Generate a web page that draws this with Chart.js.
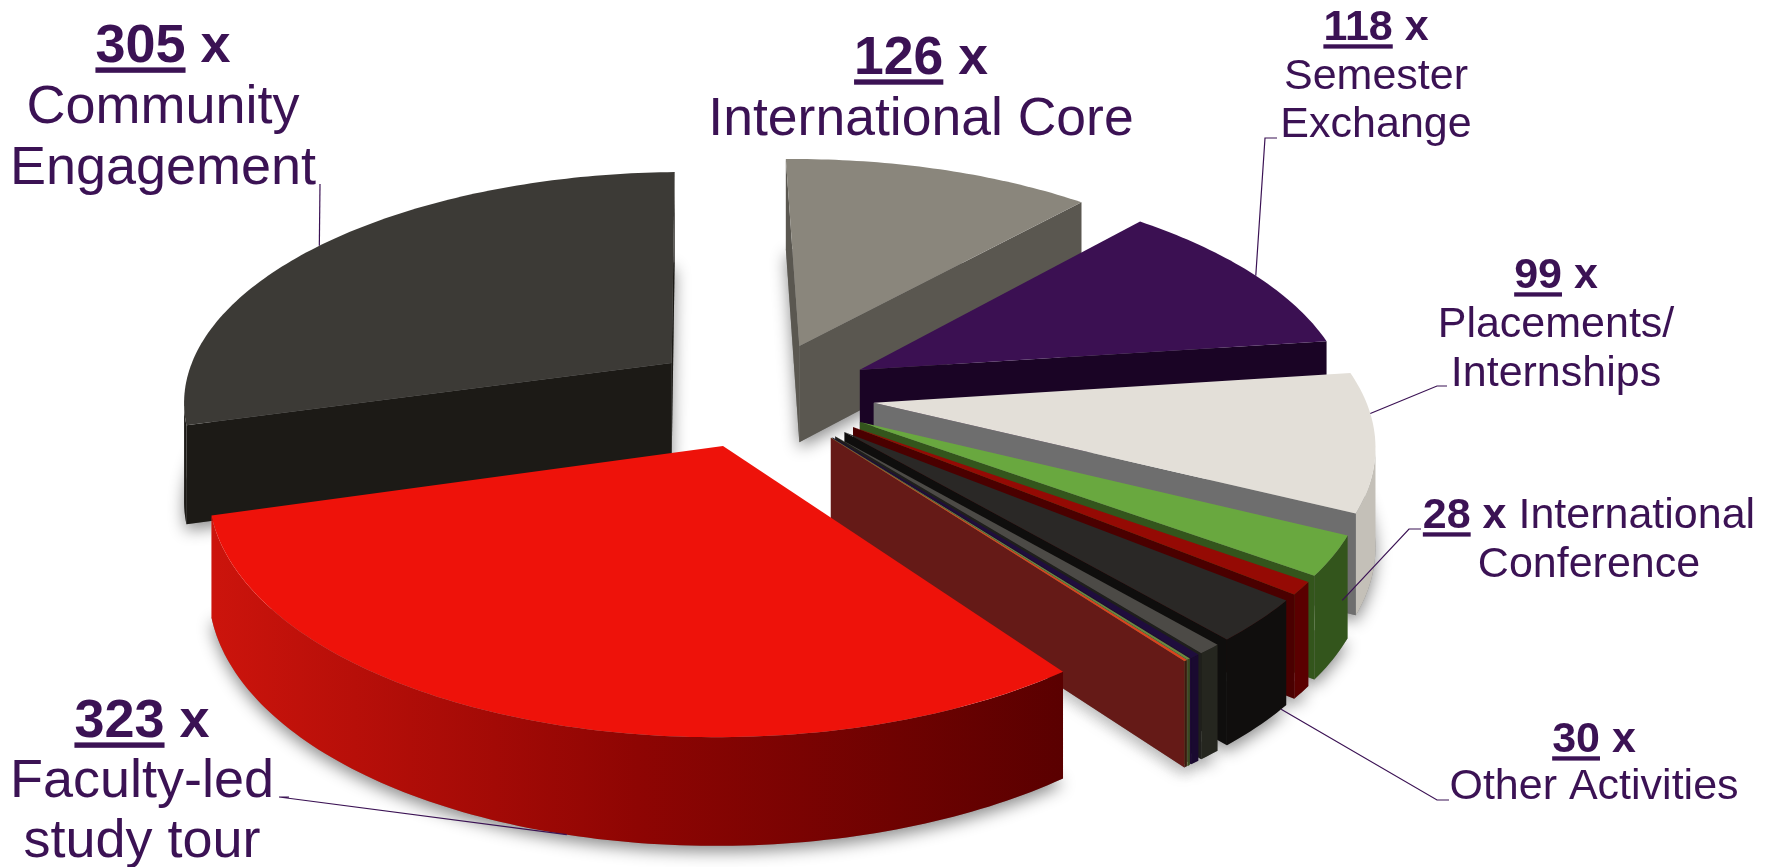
<!DOCTYPE html>
<html>
<head>
<meta charset="utf-8">
<title>Activities</title>
<script src="https://cdn.jsdelivr.net/npm/chart.js@4"></script>
<style>
    html, body { margin: 0; background: #fff; }
    canvas { display: block; }
</style>
</head>
<body>
<canvas id="pie" width="1772" height="867"></canvas>
<script>
const categories = ['Faculty-led study tour', 'Community Engagement', 'International Core', 'Semester Exchange',
    'Placements/Internships', 'International Conference', 'Other A', 'Other Activities', 'Other B', 'Other C', 'Other D', 'Other E'];
const values = [323, 305, 126, 118, 99, 28, 9, 30, 7, 3, 1, 1];

const topColors = ['#ee120a', '#3c3a36', '#8a867c', '#3b1052', '#e3dfd8', '#69a83f', '#950a04', '#2a2826', '#4c4a46', '#1f0d3d', '#6a8a40', '#e0401c'];
const cutColors = ['#650100', '#1c1a16', '#5a5750', '#1a0425', '#6e6e6e', '#33551c', '#4a0000', '#0f0e0d', '#1f1f1c', '#1e0a35', '#6a7a40', '#651a17'];
const wallColors = [null, '#1c1a16', '#5a5750', '#1a0425', '#c4c0b8', '#33551c', '#5a0000', '#100e0d', '#25261f', '#1a0a30', '#3a4a20', '#3a1a10'];
const redWallStops = ['#cc140c', '#8e0503', '#5a0000'];

// back to front, the big red slice goes over the thin ones
const paintOrder = [2, 1, 3, 4, 5, 6, 7, 8, 9, 10, 11, 0];

// camera for the tilted pie
const camera = { cx: 761, cy: 394, a: 490, b: 229, k: 0.153, depth: 98 };

const inkColor = '#3b1254';

const captions = [
    { slice: 1, cx: 163, y: 62, size: 54, lh: 61, lines: ['Community', 'Engagement'] },
    { slice: 2, cx: 921, y: 74, size: 53.5, lh: 61, lines: ['International Core'] },
    { slice: 3, cx: 1376, y: 40, size: 43, lh: 48.5, lines: ['Semester', 'Exchange'] },
    { slice: 4, cx: 1556, y: 288, size: 43, lh: 49, lines: ['Placements/', 'Internships'] },
    { slice: 5, cx: 1589, y: 528, size: 43, lh: 49, inline: 'International', lines: ['Conference'] },
    { slice: 7, cx: 1594, y: 752, size: 43, lh: 47, lines: ['Other Activities'] },
    { slice: 0, cx: 142, y: 737, size: 54, lh: 60, lines: ['Faculty-led', 'study tour'] }
];

// leader lines: points near the caption, then a spot on the slice rim
const leaders = [
    { slice: 1, at: 0.49, h: 0, from: [[320, 184]] },
    { slice: 3, at: 0.52, h: 0, from: [[1277, 138], [1265, 138]] },
    { slice: 4, at: 0.30, h: 0, from: [[1447, 386], [1437, 386]] },
    { slice: 5, at: 0.20, h: 0.55, from: [[1421, 529], [1409, 529]] },
    { slice: 7, at: 0.10, h: 1, from: [[1449, 800], [1437, 800]] },
    { slice: 0, at: 0.46, h: 1, from: [[289, 797], [279, 797]] }
];

function project(px, py, h) {
    const w = 1 - camera.k * py;
    return {
        x: camera.cx + camera.a * px / w,
        y: camera.cy + camera.b * py / w + h * camera.depth / Math.sqrt(w)
    };
}

// rim and apex of an arc element, in units of the pie radius
function sliceGeometry(el) {
    const mid = (el.startAngle + el.endAngle) / 2;
    const off = el.options.offset / el.outerRadius;
    const ox = Math.cos(mid) * off;
    const oy = Math.sin(mid) * off;
    const rim = [];
    const steps = Math.max(2, Math.ceil((el.endAngle - el.startAngle) / (Math.PI / 180)));
    for (let i = 0; i <= steps; i++) {
        const t = el.startAngle + (el.endAngle - el.startAngle) * i / steps;
        rim.push([ox + Math.cos(t), oy + Math.sin(t)]);
    }
    return { apex: [ox, oy], rim, ox, oy };
}

function fillFace(ctx, pts, h) {
    ctx.beginPath();
    pts.forEach((p, i) => {
        const q = project(p[0], p[1], h);
        if (i === 0) ctx.moveTo(q.x, q.y); else ctx.lineTo(q.x, q.y);
    });
    ctx.closePath();
    ctx.fill();
}

// one strip of wall below a run of top-face points, only where it faces the camera
function fillWall(ctx, pts, color) {
    let run = [];
    const flush = () => {
        if (run.length > 1) {
            ctx.beginPath();
            run.forEach((p, i) => {
                const q = project(p[0], p[1], 0);
                if (i === 0) ctx.moveTo(q.x, q.y); else ctx.lineTo(q.x, q.y);
            });
            run.slice().reverse().forEach(p => {
                const q = project(p[0], p[1], 1);
                ctx.lineTo(q.x, q.y);
            });
            ctx.closePath();
            ctx.fillStyle = color;
            ctx.fill();
        }
        run = [];
    };
    for (let n = 0; n < pts.length - 1; n++) {
        const a = project(pts[n][0], pts[n][1], 0);
        const b = project(pts[n + 1][0], pts[n + 1][1], 0);
        if (b.x < a.x) {
            if (run.length === 0) run.push(pts[n]);
            run.push(pts[n + 1]);
        } else {
            flush();
        }
    }
    flush();
}

function drawSlice(ctx, el, i) {
    const g = sliceGeometry(el);
    const last = g.rim[g.rim.length - 1];
    let wall = wallColors[i];
    if (i === 0) {
        const left = project(last[0], last[1], 0).x;
        const right = project(g.rim[0][0], g.rim[0][1], 0).x;
        wall = ctx.createLinearGradient(left, 0, right, 0);
        redWallStops.forEach((c, n) => wall.addColorStop(n / (redWallStops.length - 1), c));
    }
    fillWall(ctx, g.rim, wall);
    fillWall(ctx, [g.apex, g.rim[0]], cutColors[i]);
    fillWall(ctx, [last, g.apex], cutColors[i]);
    ctx.fillStyle = topColors[i];
    fillFace(ctx, [g.apex, ...g.rim], 0);
}

function drawCaption(ctx, cap) {
    const bold = `bold ${cap.size}px "Liberation Sans", Arial, sans-serif`;
    const plain = `${cap.size}px "Liberation Sans", Arial, sans-serif`;
    const num = String(values[cap.slice]);
    ctx.fillStyle = inkColor;
    ctx.textBaseline = 'alphabetic';
    ctx.textAlign = 'left';

    // first line: underlined bold count, then the x
    ctx.font = bold;
    const numW = ctx.measureText(num).width;
    const xW = ctx.measureText(' x').width;
    let tail = 0;
    if (cap.inline) {
        ctx.font = plain;
        tail = ctx.measureText(' ' + cap.inline).width;
    }
    const x = cap.cx - (numW + xW + tail) / 2;
    ctx.font = bold;
    ctx.fillText(num, x, cap.y);
    ctx.fillRect(x, cap.y + cap.size * 0.1, numW, cap.size * 0.1);
    ctx.fillText(' x', x + numW, cap.y);
    if (cap.inline) {
        ctx.font = plain;
        ctx.fillText(' ' + cap.inline, x + numW + xW, cap.y);
    }

    ctx.font = plain;
    ctx.textAlign = 'center';
    cap.lines.forEach((line, n) => {
        ctx.fillText(line, cap.cx, cap.y + cap.lh * (n + 1));
    });
}

function drawLeader(ctx, el, leader) {
    const g = sliceGeometry(el);
    const t = el.startAngle + (el.endAngle - el.startAngle) * leader.at;
    const end = project(g.ox + Math.cos(t), g.oy + Math.sin(t), leader.h);
    ctx.beginPath();
    leader.from.forEach((p, n) => {
        if (n === 0) ctx.moveTo(p[0], p[1]); else ctx.lineTo(p[0], p[1]);
    });
    ctx.lineTo(end.x, end.y);
    ctx.strokeStyle = inkColor;
    ctx.lineWidth = 1.2;
    ctx.stroke();
}

const tiltedPie = {
    id: 'tiltedPie',
    beforeDatasetDraw(chart) {
        const ctx = chart.ctx;
        const arcs = chart.getDatasetMeta(0).data;

        // soft shadow from the underside of each slice
        ctx.save();
        ctx.shadowColor = 'rgba(0,0,0,0.45)';
        ctx.shadowBlur = 16;
        ctx.shadowOffsetY = 6;
        ctx.fillStyle = '#888';
        arcs.forEach(el => {
            const g = sliceGeometry(el);
            fillFace(ctx, [g.apex, ...g.rim], 1);
        });
        ctx.restore();

        paintOrder.forEach(i => drawSlice(ctx, arcs[i], i));
        return false;
    },
    afterDatasetsDraw(chart) {
        const ctx = chart.ctx;
        const arcs = chart.getDatasetMeta(0).data;
        leaders.forEach(l => drawLeader(ctx, arcs[l.slice], l));
        captions.forEach(c => drawCaption(ctx, c));
    }
};

new Chart(document.getElementById('pie'), {
    type: 'pie',
    data: {
        labels: categories,
        datasets: [{
            data: values,
            backgroundColor: topColors,
            borderWidth: 0,
            offset: 90
        }]
    },
    options: {
        responsive: false,
        animation: false,
        rotation: 143.5,
        plugins: { legend: { display: false }, tooltip: { enabled: false } }
    },
    plugins: [tiltedPie]
});
</script>
</body>
</html>
